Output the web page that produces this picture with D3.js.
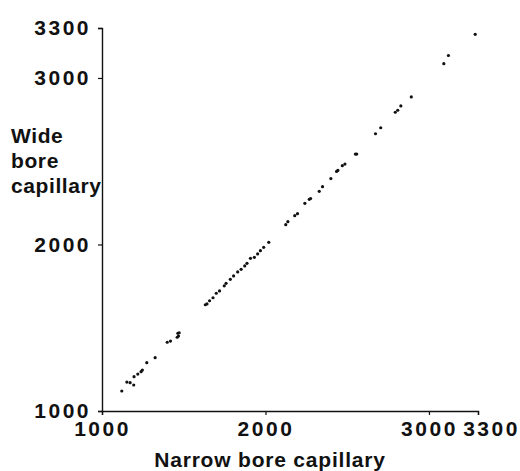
<!DOCTYPE html>
<html>
<head>
<meta charset="utf-8">
<script src="https://cdn.jsdelivr.net/npm/d3@7"></script>
<style>
  body { margin: 0; background: #fff; }
  svg text { font-family: "Liberation Sans", Arial, sans-serif; fill: #111; }
</style>
</head>
<body>
<script>
// narrow bore (x) vs wide bore (y) capillary readings
const narrowBore = [1121, 1152, 1172, 1194, 1196, 1219, 1239, 1247, 1274, 1325,
  1399, 1419, 1460, 1464, 1468, 1472, 1632, 1642, 1658, 1679,
  1699, 1719, 1748, 1759, 1785, 1805, 1830, 1851, 1873, 1887,
  1908, 1932, 1952, 1969, 1989, 2020, 2124, 2137, 2179, 2196,
  2241, 2268, 2276, 2329, 2349, 2400, 2435, 2443, 2470, 2486,
  2550, 2558, 2673, 2705, 2794, 2809, 2828, 2892, 3091, 3119, 3283];
const wideBore = [1120, 1174, 1170, 1156, 1206, 1222, 1236, 1246, 1290, 1320,
  1413, 1420, 1443, 1467, 1450, 1470, 1638, 1643, 1662, 1680,
  1707, 1721, 1752, 1767, 1791, 1811, 1835, 1851, 1871, 1887,
  1917, 1923, 1943, 1963, 1983, 2013, 2119, 2137, 2173, 2185,
  2247, 2271, 2276, 2319, 2347, 2396, 2439, 2445, 2473, 2483,
  2543, 2543, 2665, 2701, 2794, 2806, 2832, 2886, 3086, 3135, 3262];
const tickValues = [1000, 2000, 3000, 3300];
const yLabel = ["Wide", "bore", "capillary"];
const xLabel = "Narrow bore capillary";

const width = 520, height = 471;

const svg = d3.select("body").append("svg")
  .attr("width", width)
  .attr("height", height);

const x = d3.scaleLinear().domain([1000, 3300]).range([102, 478]);
const y = d3.scaleLinear().domain([1000, 3300]).range([411, 28]);

const points = narrowBore.map((d, i) => ({ n: d, w: wideBore[i] }));

// x axis
const gx = svg.append("g")
  .attr("transform", "translate(0,411)")
  .call(d3.axisBottom(x).tickValues(tickValues).tickFormat(d3.format("d")).tickSize(4).tickPadding(6));
gx.selectAll("text")
  .attr("font-size", 21)
  .attr("font-weight", "bold")
  .attr("letter-spacing", "2.5px")
  .attr("fill", "#111");
// last label sits to the right of its tick, as in the print
gx.selectAll(".tick text").filter(d => d === 3300).attr("dx", 13);

// y axis
const gy = svg.append("g")
  .attr("transform", "translate(102,0)")
  .call(d3.axisLeft(y).tickValues(tickValues).tickFormat(d3.format("d")).tickSize(4).tickPadding(7));
gy.selectAll("text")
  .attr("font-size", 21)
  .attr("font-weight", "bold")
  .attr("letter-spacing", "2.5px")
  .attr("fill", "#111");

svg.selectAll(".domain").attr("stroke", "#111").attr("stroke-width", 1.4);
svg.selectAll(".tick line").attr("stroke", "#111").attr("stroke-width", 1.2);

// axis titles
svg.append("g")
  .selectAll("text")
  .data(yLabel)
  .join("text")
  .attr("x", 11)
  .attr("y", (d, i) => 143 + i * 25)
  .attr("font-size", 21)
  .attr("font-weight", "bold")
  .attr("letter-spacing", "0.6px")
  .text(d => d);

svg.append("text")
  .attr("x", 270)
  .attr("y", 467)
  .attr("text-anchor", "middle")
  .attr("font-size", 21)
  .attr("font-weight", "bold")
  .attr("letter-spacing", "0.8px")
  .text(xLabel);

// points
svg.append("g")
  .selectAll("circle")
  .data(points)
  .join("circle")
  .attr("cx", d => x(d.n))
  .attr("cy", d => y(d.w))
  .attr("r", 1.6)
  .attr("fill", "#111");
</script>
</body>
</html>
